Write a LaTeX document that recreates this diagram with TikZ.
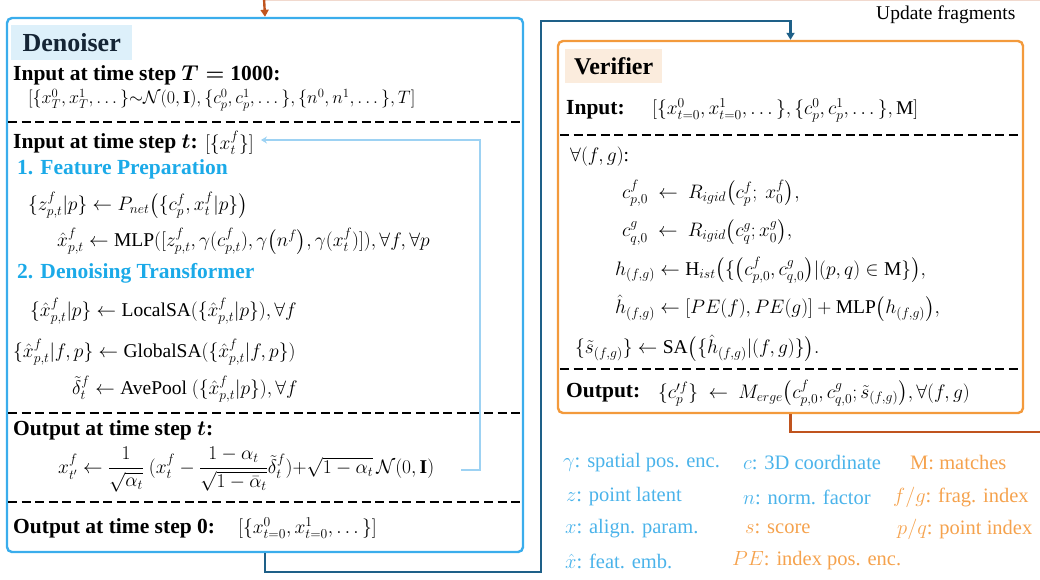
\RequirePackage{fix-cm}
\documentclass[tikz,border=0pt]{standalone}
\usepackage{amsmath}
\usepackage[no-math]{fontspec}
\setmainfont{Liberation Serif}
\usetikzlibrary{arrows.meta}
\newcommand{\op}[1]{\textnormal{#1}}
\definecolor{denc}{HTML}{3AADEC}
\definecolor{denfill}{HTML}{DDF0FA}
\definecolor{dentxt}{HTML}{152535}
\definecolor{verc}{HTML}{F39A3C}
\definecolor{verfill}{HTML}{FBECDD}
\definecolor{tealc}{HTML}{1E6088}
\definecolor{brownc}{HTML}{C0541E}
\definecolor{fbc}{HTML}{9DD2F3}
\definecolor{headc}{HTML}{1BAAE8}
\definecolor{legb}{HTML}{4AB3EA}
\definecolor{lego}{HTML}{F5A24D}
\begin{document}
\begin{tikzpicture}[x=1pt,y=-1pt,
  outerbox/.style={draw=#1, line width=2.4pt, rounded corners=5pt, inner sep=0pt},
  titlebox/.style={fill=#1, inner sep=0pt, anchor=north west},
  txt/.style={anchor=west, inner sep=0pt, font=\fontsize{19.5}{22}\selectfont},
  hd/.style={anchor=west, inner sep=0pt, font=\fontsize{21.5}{24}\selectfont\bfseries},
  lg/.style={anchor=west, inner sep=0pt, font=\fontsize{20.5}{23}\selectfont},
  dsh/.style={line width=2.2pt, dash pattern=on 9pt off 4.6pt},
  conn/.style={line width=2.4pt, -{Triangle[width=8pt,length=7pt]}},
]
\useasboundingbox (0,0) rectangle (1040,579);
% boxes
\node[outerbox=denc, minimum width=516pt, minimum height=534pt] (den) at (265,285) {};
\node[outerbox=verc, minimum width=465pt, minimum height=372pt] (ver) at (790.5,227) {};
\node[titlebox=denfill, minimum width=121pt, minimum height=35pt, font=\fontsize{26}{28}\selectfont\bfseries, text=dentxt] (dent) at (11,25) {Denoiser};
\node[titlebox=verfill, minimum width=97pt, minimum height=34pt, font=\fontsize{24}{26}\selectfont\bfseries] (vert) at (565,49) {Verifier};
% separators
\draw[dsh] (8,122) -- (521,122);
\draw[dsh] (8,413) -- (521,413);
\draw[dsh] (8,502) -- (521,502);
\draw[dsh] (560,135) -- (1021,135);
\draw[dsh] (560,369) -- (1021,369);
% denoiser texts
\node[hd] (inT) at (13,75) {Input at time step $\boldsymbol{T=}\textbf{1000}$:};
\node[txt, font=\fontsize{18}{21}\selectfont] (inTf) at (28,100) {$[\{x_T^0,x_T^1,\dots\}{\sim}\mathcal{N}(0,\textbf{I}),\{c_p^0,c_p^1,\dots\},\{n^0,n^1,\dots\},T]$};
\node[hd] (int) at (13,143) {Input at time step $\boldsymbol{t}$:};
\node[txt] (intf) at (int.east) [xshift=7pt] {$[\{x_t^f\}]$};
\node[hd, text=headc] (h1) at (17,169) {1. Feature Preparation};
\node[txt] (f1) at (28,205) {$\{z_{p,t}^f|p\}\leftarrow P_{net}\big(\{c_p^f,x_t^f|p\}\big)$};
\node[txt] (f2) at (57,241) {$\hat{x}_{p,t}^f\leftarrow \op{MLP}([z_{p,t}^f,\gamma(c_{p,t}^f),\gamma\big(n^f\big),\gamma(x_t^f)]),\forall f,\forall p$};
\node[hd, text=headc] (h2) at (17,273) {2. Denoising Transformer};
\node[txt] (f3) at (30,311) {$\{\hat{x}_{p,t}^f|p\}\leftarrow \op{LocalSA}(\{\hat{x}_{p,t}^f|p\}),\forall f$};
\node[txt] (f4) at (13,352) {$\{\hat{x}_{p,t}^f|f,p\}\leftarrow \op{GlobalSA}(\{\hat{x}_{p,t}^f|f,p\})$};
\node[txt] (f5) at (72,389) {$\tilde{\delta}_t^f\leftarrow \op{AvePool}\ (\{\hat{x}_{p,t}^f|p\}),\forall f$};
\node[hd] (outt) at (13,430) {Output at time step $\boldsymbol{t}$:};
\node[txt] (outf) at (58,470) {$x_{t'}^f\leftarrow \dfrac{1}{\sqrt{\alpha_t}}\ (x_t^f-\dfrac{1-\alpha_t}{\sqrt{1-\bar{\alpha}_t}}\tilde{\delta}_t^f){+}\sqrt{1-\alpha_t}\,\mathcal{N}(0,\textbf{I})$};
\node[hd] (out0) at (13,528) {Output at time step 0:};
\node[txt] (out0f) at (238,528) {$[\{x_{t=0}^0,x_{t=0}^1,\dots\}]$};
% verifier texts
\node[hd] (vin) at (566,110) {Input:};
\node[txt] (vinf) at (652,110) {$[\{x_{t=0}^0,x_{t=0}^1,\dots\},\{c_p^0,c_p^1,\dots\},\op{M}]$};
\node[txt] (v0) at (570,157) {$\forall(f,g)$:};
\node[txt] (v1) at (622,193) {$c_{p,0}^f\ \leftarrow\ R_{igid}\big(c_p^f;\ x_0^f\big),$};
\node[txt] (v2) at (622,232) {$c_{q,0}^g\ \leftarrow\ R_{igid}\big(c_q^g;x_0^g\big),$};
\node[txt] (v3) at (615,270) {$h_{(f,g)}\leftarrow \op{H}_{ist}\big(\{\big(c_{p,0}^f,c_{q,0}^g\big)|(p,q)\in\op{M}\}\big),$};
\node[txt] (v4) at (615,308) {$\hat{h}_{(f,g)}\leftarrow [PE(f),PE(g)]+\op{MLP}\big(h_{(f,g)}\big),$};
\node[txt] (v5) at (575,348) {$\{\tilde{s}_{(f,g)}\}\leftarrow \op{SA}\big(\{\hat{h}_{(f,g)}|(f,g)\}\big).$};
\node[hd] (vout) at (566,393) {Output:};
\node[txt] (voutf) at (658,393) {$\{c'^f_p\}\ \leftarrow\ M_{erge}\big(c_{p,0}^f,c_{q,0}^g;\tilde{s}_{(f,g)}\big),\forall(f,g)$};
% legend
\node[lg, text=legb] (l1) at (563,463) {$\gamma$: spatial pos. enc.};
\node[lg, text=legb] (l2) at (743,463) {$c$: 3D coordinate};
\node[lg, text=lego] (l3) at (910,463) {M: matches};
\node[lg, text=legb] (l4) at (566,497) {$z$: point latent};
\node[lg, text=legb] (l5) at (743,497) {$n$: norm. factor};
\node[lg, text=lego] (l6) at (893,497) {$f/g$: frag. index};
\node[lg, text=legb] (l7) at (565,529) {$x$: align. param.};
\node[lg, text=lego] (l8) at (745,529) {$s$: score};
\node[lg, text=lego] (l9) at (897,529) {$p/q$: point index};
\node[lg, text=legb] (l10) at (565,561) {$\hat{x}$: feat. emb.};
\node[lg, text=lego] (l11) at (732,561) {$PE$: index pos. enc.};
\node[anchor=west, inner sep=0pt, font=\fontsize{19.5}{22}\selectfont] (upd) at (876,15) {Update fragments};
% connectors
\coordinate (tb) at (541,572);
\coordinate (tt) at (541,21);
\draw[conn, draw=tealc] (den.south) |- (tb) -- (tt) -| (ver.north);
\coordinate (br) at (1045,432);
\draw[line width=2.4pt, brownc] (ver.south) |- (br);
\coordinate (tr) at (1045,0.5);
\coordinate (tl) at (264,0.5);
\draw[line width=1.2pt, brownc!22] (tr) -- (tl);
\draw[conn, draw=brownc] (tl |- 0,-2) -- (den.north);
\coordinate (fbs) at ([xshift=27pt]outf.east);
\coordinate (fbk) at (480,140);
\draw[line width=1.5pt, fbc, -{Stealth[width=7pt,length=6pt]}] (fbs) -| (fbk) -- ([xshift=7pt]intf.east |- fbk);
\end{tikzpicture}
\end{document}
